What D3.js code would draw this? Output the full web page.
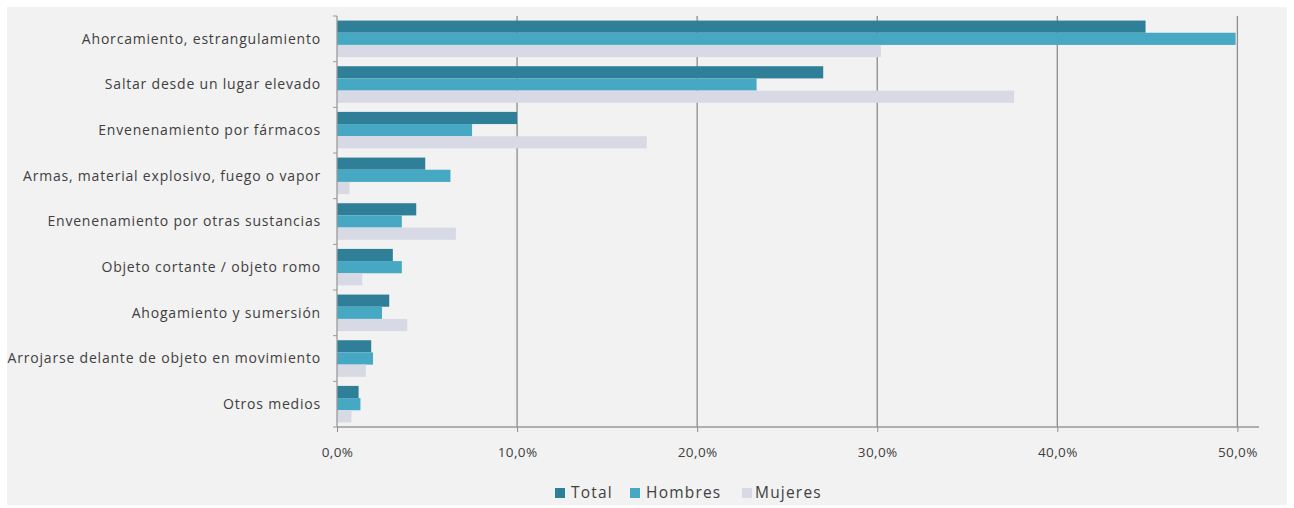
<!DOCTYPE html>
<html><head><meta charset="utf-8">
<script src="https://cdn.jsdelivr.net/npm/d3@7"></script>
<style>body{margin:0;background:#fff;}svg{display:block;font-family:"Open Sans", Lato, sans-serif;}</style>
</head><body><svg id="c" width="1294" height="508"></svg>
<script>
const categories = ["Ahorcamiento, estrangulamiento","Saltar desde un lugar elevado","Envenenamiento por fármacos","Armas, material explosivo, fuego o vapor","Envenenamiento por otras sustancias","Objeto cortante / objeto romo","Ahogamiento y sumersión","Arrojarse delante de objeto en movimiento","Otros medios"];
const seriesNames = ["Total","Hombres","Mujeres"];
const total   = [44.9, 27.0, 10.0, 4.9, 4.4, 3.1, 2.9, 1.9, 1.2];
const hombres = [49.9, 23.3, 7.5, 6.3, 3.6, 3.6, 2.5, 2.0, 1.3];
const mujeres = [30.2, 37.6, 17.2, 0.7, 6.6, 1.4, 3.9, 1.6, 0.8];
const tickValues = [0,10,20,30,40,50];
const tickLabels = ["0,0%","10,0%","20,0%","30,0%","40,0%","50,0%"];
const colors = ["#2f7f98","#46a8c3","#d7d9e4"];

const svg = d3.select("#c");
svg.append("rect").attr("x",7).attr("y",7).attr("width",1280).attr("height",498).attr("fill","#f2f2f2");

const pL = 337, pT = 16, pB = 427, pR = 1259;
const x = d3.scaleLinear().domain([0,51.2]).range([pL, pR]);
const y = d3.scaleBand().domain(categories).range([pT,pB]).paddingInner(0.2).paddingOuter(0.1);
const yS = d3.scaleBand().domain(seriesNames).range([0,y.bandwidth()]);
const data = [total,hombres,mujeres];

// gridlines
svg.append("g").selectAll("line").data(tickValues.slice(1)).join("line")
  .attr("x1",d=>x(d)).attr("x2",d=>x(d)).attr("y1",pT).attr("y2",pB)
  .attr("stroke","#8c8c8c").attr("stroke-width",1.3);

// bars
seriesNames.forEach((s,si)=>{
  svg.append("g").selectAll("rect").data(categories).join("rect")
    .attr("x",x(0)).attr("y",(d)=>y(d)+yS(s))
    .attr("width",(d,i)=>x(data[si][i])-x(0))
    .attr("height",yS.bandwidth())
    .attr("fill",colors[si]);
});

// x axis
const xa = svg.append("g").attr("transform",`translate(0,${pB})`)
  .call(d3.axisBottom(x).tickValues(tickValues).tickFormat((d,i)=>tickLabels[i]).tickSize(5).tickPadding(15));
xa.select(".domain").attr("stroke","#9a9a9a").attr("stroke-width",1.5).attr("d",`M${pL},0H${pR}`);
xa.selectAll(".tick line").attr("stroke","#8c8c8c");
xa.selectAll("text").attr("fill","#404040").attr("font-size",13.5).attr("letter-spacing","0.4px")
  .attr("font-family","'Open Sans', sans-serif");

// y axis
const yTicks = d3.range(categories.length+1).map(i=>pT + i*(pB-pT)/categories.length);
svg.append("line").attr("x1",pL).attr("x2",pL).attr("y1",pT).attr("y2",pB).attr("stroke","#9a9a9a").attr("stroke-width",1.3);
svg.append("g").selectAll("line").data(yTicks).join("line")
  .attr("x1",pL-4).attr("x2",pL).attr("y1",d=>d).attr("y2",d=>d).attr("stroke","#9a9a9a");
svg.append("g").selectAll("text").data(categories).join("text")
  .attr("x",321).attr("y",d=>y(d)+y.bandwidth()/2).attr("dy","0.35em")
  .attr("text-anchor","end").attr("fill","#404040").attr("font-size",14).attr("letter-spacing","0.8px").text(d=>d);

// legend
const legX = [555, 630, 742];
const lg = svg.append("g");
seriesNames.forEach((s,i)=>{
  lg.append("rect").attr("x",legX[i]).attr("y",488).attr("width",10).attr("height",10).attr("fill",colors[i]);
  lg.append("text").attr("x",legX[i]+(i===2?13:16)).attr("y",493).attr("dy","0.35em").attr("fill","#404040")
    .attr("font-size",15.5).attr("letter-spacing","1.2px").text(s);
});
</script></body></html>
